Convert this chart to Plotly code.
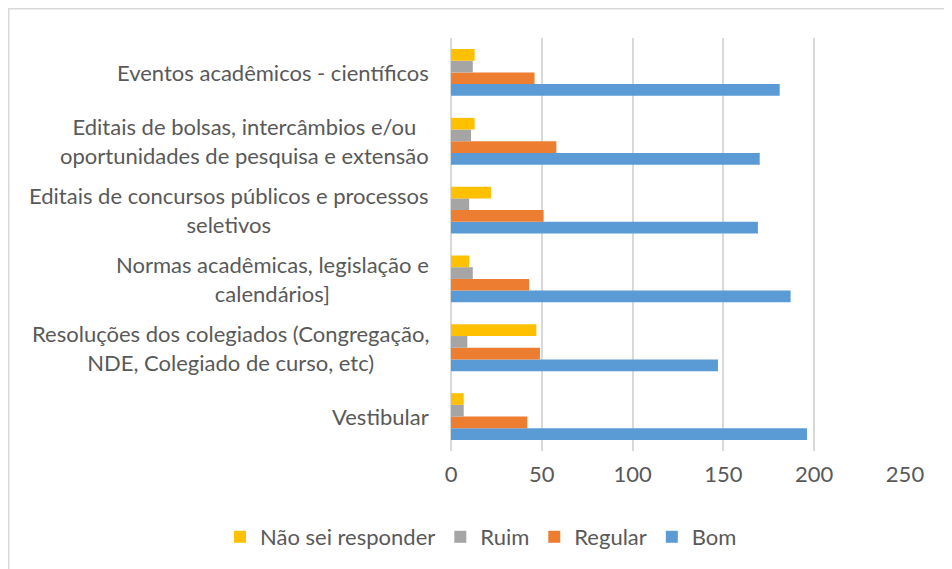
import plotly.graph_objects as go

categories = [
    "Vestibular",
    "Resoluções dos colegiados (Congregação,<br>NDE, Colegiado de curso, etc)",
    "Normas acadêmicas, legislação e<br>calendários]",
    "Editais de concursos públicos e processos<br>seletivos",
    "Editais de bolsas, intercâmbios e/ou<br>oportunidades de pesquisa e extensão",
    "Eventos acadêmicos - científicos",
]
bom = [196, 147, 187, 169, 170, 181]
regular = [42, 49, 43, 51, 58, 46]
ruim = [7, 9, 12, 10, 11, 12]
nao_sei = [7, 47, 10, 22, 13, 13]
x_ticks = [0, 50, 100, 150, 200, 250]

series = [
    ("Bom", bom, "#5B9BD5"),
    ("Regular", regular, "#ED7D31"),
    ("Ruim", ruim, "#A5A5A5"),
    ("Não sei responder", nao_sei, "#FFC000"),
]

FONT = "Lato"
TXT = "#595959"
FS = 22

# figure is offset 8px by the page's body margin
W, H = 944, 561
L, R, T, B = 443, 47, 30, 117
PW, PH = W - L - R, H - T - B

fig = go.Figure()
for name, vals, color in series:
    fig.add_trace(go.Bar(
        y=categories, x=vals, name=name, orientation="h",
        marker=dict(color=color, line=dict(width=0)),
    ))

for c in categories:
    fig.add_annotation(
        x=0, y=c, xref="paper", yref="y", text=c, showarrow=False,
        xanchor="right", yanchor="middle", align="center", xshift=-20,
        font=dict(family=FONT, size=FS, color=TXT),
    )

fig.add_shape(type="rect", xref="paper", yref="paper",
              x0=(0.75 - L) / PW, x1=(W - 0.75 - L) / PW,
              y0=-(B + 20) / PH, y1=1 + (T - 0.75) / PH,
              line=dict(color="#D9D9D9", width=1.5), fillcolor="rgba(0,0,0,0)")

fig.update_layout(
    width=W, height=H,
    margin=dict(l=L, r=R, t=T, b=B),
    paper_bgcolor="white", plot_bgcolor="white",
    barmode="group", bargap=0.32, bargroupgap=0,
    font=dict(family=FONT, size=FS, color=TXT),
    legend=dict(orientation="h", traceorder="reversed",
                x=(212 - L) / PW, xanchor="left",
                y=-(529 - T - PH) / PH, yanchor="middle",
                font=dict(family=FONT, size=FS, color=TXT),
                itemwidth=30),
    xaxis=dict(range=[0, 250], tickvals=x_ticks, showgrid=True, gridcolor="#D9D9D9",
               gridwidth=1.5, zeroline=True, zerolinecolor="#D9D9D9", zerolinewidth=1.5,
               showline=False, ticks="", ticklabelstandoff=8, automargin=False,
               tickfont=dict(family=FONT, size=FS, color=TXT)),
    yaxis=dict(categoryorder="array", categoryarray=categories, showticklabels=False,
               showgrid=False, zeroline=False, showline=False, ticks="", automargin=False),
)

fig.write_html("out.html")
